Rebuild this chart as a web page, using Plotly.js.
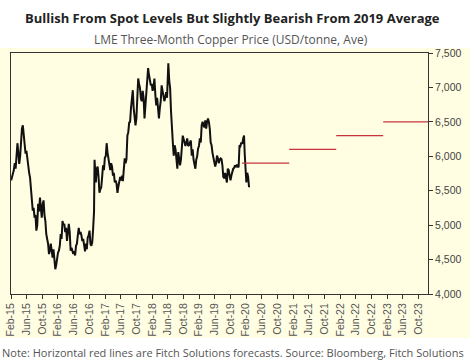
<!DOCTYPE html>
<html>
<head>
<meta charset="utf-8">
<script src="https://cdn.plot.ly/plotly-3.0.1.min.js"></script>
<style>
  html, body { margin: 0; padding: 0; background: #ffffff; }
  #chart { width: 473px; height: 364px; }
</style>
</head>
<body>
<div id="chart"></div>
<script>
// ---- Data: LME three-month copper price (USD/tonne) ----
const priceDates = [
  '2015-02-02','2015-02-09','2015-02-16','2015-02-23','2015-03-02','2015-03-09','2015-03-16','2015-03-23','2015-03-30',
  '2015-04-06','2015-04-13','2015-04-20','2015-04-27','2015-05-04','2015-05-11','2015-05-18','2015-05-25',
  '2015-06-01','2015-06-08','2015-06-15','2015-06-22','2015-06-29','2015-07-06','2015-07-13','2015-07-20','2015-07-27',
  '2015-08-03','2015-08-10','2015-08-17','2015-08-24','2015-08-31','2015-09-07','2015-09-14','2015-09-21','2015-09-28',
  '2015-10-05','2015-10-12','2015-10-19','2015-10-26','2015-11-02','2015-11-09','2015-11-16','2015-11-23','2015-11-30',
  '2015-12-07','2015-12-14','2015-12-21','2015-12-28','2016-01-04','2016-01-11','2016-01-18','2016-01-25',
  '2016-02-01','2016-02-08','2016-02-15','2016-02-22','2016-02-29','2016-03-07','2016-03-14','2016-03-21','2016-03-28',
  '2016-04-04','2016-04-11','2016-04-18','2016-04-25','2016-05-02','2016-05-09','2016-05-16','2016-05-23','2016-05-30',
  '2016-06-06','2016-06-13','2016-06-20','2016-06-27','2016-07-04','2016-07-11','2016-07-18','2016-07-25',
  '2016-08-01','2016-08-08','2016-08-15','2016-08-22','2016-08-29','2016-09-05','2016-09-12','2016-09-19','2016-09-26',
  '2016-10-03','2016-10-10','2016-10-17','2016-10-24','2016-10-31','2016-11-07','2016-11-11','2016-11-14','2016-11-21','2016-11-28',
  '2016-12-05','2016-12-12','2016-12-19','2016-12-26','2017-01-02','2017-01-09','2017-01-16','2017-01-23','2017-01-30',
  '2017-02-06','2017-02-13','2017-02-20','2017-02-27','2017-03-06','2017-03-13','2017-03-20','2017-03-27',
  '2017-04-03','2017-04-10','2017-04-17','2017-04-24','2017-05-01','2017-05-08','2017-05-15','2017-05-22','2017-05-29',
  '2017-06-05','2017-06-12','2017-06-19','2017-06-26','2017-07-03','2017-07-10','2017-07-17','2017-07-24','2017-07-31',
  '2017-08-07','2017-08-14','2017-08-21','2017-08-28','2017-09-04','2017-09-11','2017-09-18','2017-09-25',
  '2017-10-02','2017-10-09','2017-10-16','2017-10-23','2017-10-30','2017-11-06','2017-11-13','2017-11-20','2017-11-27',
  '2017-12-04','2017-12-11','2017-12-18','2017-12-25','2018-01-01','2018-01-08','2018-01-15','2018-01-22','2018-01-29',
  '2018-02-05','2018-02-12','2018-02-19','2018-02-26','2018-03-05','2018-03-12','2018-03-19','2018-03-26',
  '2018-04-02','2018-04-09','2018-04-16','2018-04-23','2018-04-30','2018-05-07','2018-05-14','2018-05-21','2018-05-28',
  '2018-06-04','2018-06-07','2018-06-14','2018-06-21','2018-06-28','2018-07-05','2018-07-12','2018-07-19','2018-07-26',
  '2018-08-02','2018-08-09','2018-08-16','2018-08-23','2018-08-30','2018-09-06','2018-09-13','2018-09-20','2018-09-27',
  '2018-10-04','2018-10-11','2018-10-18','2018-10-25','2018-11-01','2018-11-08','2018-11-15','2018-11-22','2018-11-29',
  '2018-12-06','2018-12-13','2018-12-20','2018-12-27','2019-01-03','2019-01-10','2019-01-17','2019-01-24','2019-01-31',
  '2019-02-07','2019-02-14','2019-02-21','2019-02-28','2019-03-07','2019-03-14','2019-03-21','2019-03-28',
  '2019-04-04','2019-04-11','2019-04-18','2019-04-25','2019-05-02','2019-05-09','2019-05-16','2019-05-23','2019-05-30',
  '2019-06-06','2019-06-13','2019-06-20','2019-06-27','2019-07-04','2019-07-11','2019-07-18','2019-07-25',
  '2019-08-01','2019-08-08','2019-08-15','2019-08-22','2019-08-29','2019-09-05','2019-09-12','2019-09-19','2019-09-26',
  '2019-10-03','2019-10-10','2019-10-17','2019-10-24','2019-10-31','2019-11-07','2019-11-14','2019-11-21','2019-11-28',
  '2019-12-05','2019-12-12','2019-12-19','2019-12-26','2020-01-02','2020-01-09','2020-01-16','2020-01-21','2020-01-27',
  '2020-02-03','2020-02-10','2020-02-17','2020-02-24'
];
const priceValues = [
  5650,5720,5750,5800,5900,5820,6000,6190,6050,
  5890,6000,6270,6400,6450,6330,6200,6040,
  6080,5950,5790,5760,5690,5500,5360,5210,5250,
  5110,5150,4920,5000,5310,5200,5400,5250,5110,
  5300,5360,5150,5060,4870,4800,4730,4580,4630,
  4730,4620,4530,4650,4480,4360,4420,4530,
  4600,4630,4700,4870,4800,5060,5000,5020,4900,
  4960,4770,4900,5020,4900,4630,4670,4600,4580,
  4620,4560,4700,4730,4850,4960,4870,4900,
  4850,4770,4800,4670,4620,4730,4650,4820,4850,
  4920,4730,4700,4750,4950,5200,5950,5750,5620,5820,
  5850,5700,5470,5520,5550,5700,5870,5800,5980,
  6000,6190,6050,5970,5870,5800,5900,5850,
  5720,5760,5620,5650,5600,5470,5560,5680,5700,
  5650,5720,5640,5850,5970,5900,5960,6300,6350,
  6490,6500,6700,6800,6960,6700,6550,6450,
  6550,6800,7130,7050,6990,6840,6800,6950,6850,
  6550,6740,6950,7150,7280,7180,7100,7030,7050,
  6950,7000,7130,6900,6740,6850,6650,6550,
  6700,6800,7030,6950,6840,6800,6850,6930,6850,
  7100,7350,7100,6990,6650,6350,6200,6010,6160,
  6100,5870,5820,6060,5950,5870,5950,6100,6300,
  6250,6200,6150,6200,6260,6150,6160,6200,6230,
  6010,6100,5950,5900,5820,5950,6000,6110,6150,
  6260,6200,6450,6500,6450,6420,6520,6400,
  6500,6550,6500,6400,6200,6160,6050,5970,5910,
  5850,5900,6010,5970,5900,5950,5970,5960,
  5870,5700,5680,5760,5700,5620,5820,5800,5720,
  5650,5720,5780,5820,5830,5870,5840,5880,5850,
  5840,6160,6150,6200,6180,6250,6300,6050,5700,
  5620,5760,5700,5550
];

// ---- Fitch Solutions annual forecasts (horizontal red lines) ----
const forecastYears  = [2020, 2021, 2022, 2023];
const forecastValues = [5900, 6100, 6300, 6500];

// ---- Axis ticks ----
const xTickVals = [
  '2015-02-01','2015-06-01','2015-10-01','2016-02-01','2016-06-01','2016-10-01','2017-02-01','2017-06-01','2017-10-01',
  '2018-02-01','2018-06-01','2018-10-01','2019-02-01','2019-06-01','2019-10-01','2020-02-01','2020-06-01','2020-10-01',
  '2021-02-01','2021-06-01','2021-10-01','2022-02-01','2022-06-01','2022-10-01','2023-02-01','2023-06-01','2023-10-01'
];
const xTickLabels = [
  'Feb-15','Jun-15','Oct-15','Feb-16','Jun-16','Oct-16','Feb-17','Jun-17','Oct-17',
  'Feb-18','Jun-18','Oct-18','Feb-19','Jun-19','Oct-19','Feb-20','Jun-20','Oct-20',
  'Feb-21','Jun-21','Oct-21','Feb-22','Jun-22','Oct-22','Feb-23','Jun-23','Oct-23'
];
const yTickVals = [4000, 4500, 5000, 5500, 6000, 6500, 7000, 7500];

// ---- Geometry (pixels of the 473x364 canvas) ----
const W = 473, H = 364;
const M = { l: 11, r: 45, t: 53, b: 70 };
const PW = W - M.l - M.r, PH = H - M.t - M.b;
const px = x => (x - M.l) / PW;
const py = y => (H - M.b - y) / PH;

const CREAM = '#FFFDE2';
const traces = [{
  type: 'scatter', mode: 'lines',
  x: priceDates, y: priceValues,
  line: { color: '#111111', width: 2 },
  hoverinfo: 'skip', showlegend: false
}];
forecastYears.forEach((yr, i) => {
  traces.push({
    type: 'scatter', mode: 'lines',
    x: [yr + '-01-01', (yr + 1) + '-01-01'],
    y: [forecastValues[i], forecastValues[i]],
    line: { color: '#C8323C', width: 1.3 },
    hoverinfo: 'skip', showlegend: false
  });
});

const layout = {
  width: W, height: H,
  margin: M,
  paper_bgcolor: '#ffffff',
  plot_bgcolor: CREAM,
  showlegend: false,
  font: { family: 'Liberation Sans, Arial, sans-serif', color: '#444' },
  xaxis: {
    type: 'date',
    range: ['2015-02-01', '2023-12-15'],
    tickmode: 'array', tickvals: xTickVals, ticktext: xTickLabels,
    tickangle: -90,
    ticks: 'outside', ticklen: 4, tickwidth: 1, tickcolor: '#333',
    showline: true, linecolor: '#333', linewidth: 1, mirror: true,
    showgrid: false, zeroline: false,
    tickfont: { family: 'Liberation Sans, Arial, sans-serif', size: 10.5, color: '#555' }
  },
  yaxis: {
    side: 'right',
    range: [4000, 7500],
    tickmode: 'array', tickvals: yTickVals,
    tickformat: ',',
    ticks: 'outside', ticklen: 4, tickwidth: 1, tickcolor: '#333',
    showline: true, linecolor: '#333', linewidth: 1, mirror: true,
    showgrid: false, zeroline: false,
    tickfont: { family: 'Liberation Sans, Arial, sans-serif', size: 10.5, color: '#444' }
  },
  shapes: [{
    type: 'rect', xref: 'paper', yref: 'paper', layer: 'below',
    x0: px(0), x1: px(470), y0: py(338), y1: py(48),
    fillcolor: CREAM, line: { width: 0 }
  }],
  annotations: [
    {
      xref: 'paper', yref: 'paper', x: px(232), y: py(18), xanchor: 'center', yanchor: 'middle',
      text: '<b>Bullish From Spot Levels But Slightly Bearish From 2019 Average</b>',
      showarrow: false, font: { family: 'Open Sans, sans-serif', size: 13, color: '#222' }
    },
    {
      xref: 'paper', yref: 'paper', x: px(231), y: py(39), xanchor: 'center', yanchor: 'middle',
      text: 'LME Three-Month Copper Price (USD/tonne, Ave)',
      showarrow: false, font: { family: 'Open Sans, sans-serif', size: 12, color: '#555' }
    },
    {
      xref: 'paper', yref: 'paper', x: px(233), y: py(352), xanchor: 'center', yanchor: 'middle',
      text: 'Note: Horizontal red lines are Fitch Solutions forecasts. Source: Bloomberg, Fitch Solutions',
      showarrow: false, font: { family: 'Open Sans, sans-serif', size: 11, color: '#555' }
    }
  ]
};

Plotly.newPlot('chart', traces, layout, { staticPlot: true, displayModeBar: false });
</script>
</body>
</html>
